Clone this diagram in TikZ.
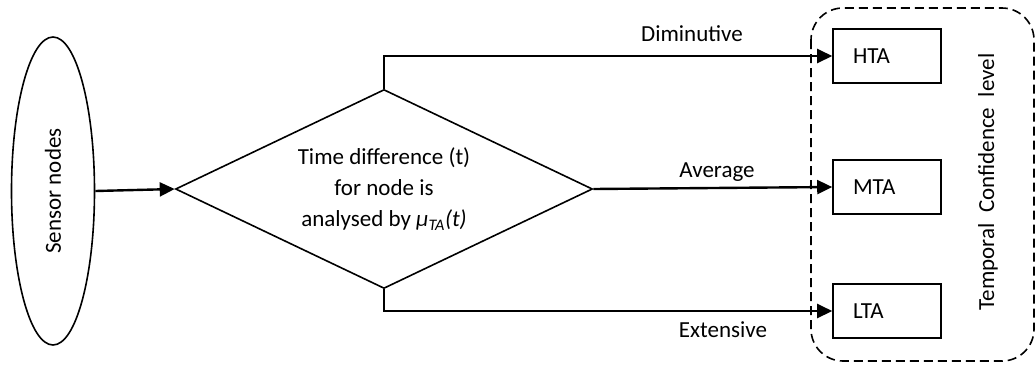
\documentclass[tikz,border=0pt]{standalone}
\usepackage{fontspec}
\setmainfont{Carlito}
\usetikzlibrary{shapes.geometric,arrows.meta}
\begin{document}
\begin{tikzpicture}[x=1pt,y=-1pt,
  every node/.style={font=\fontsize{23}{31}\selectfont},
  shapeline/.style={draw,line width=1.6pt},
  flow/.style={line width=2.4pt,-{Triangle[length=15pt,width=14pt]}},
  tabox/.style={shapeline,minimum height=54pt,text width=68pt,inner xsep=20pt,align=left},
  lbl/.style={inner sep=0pt}
]
\useasboundingbox (0,0) rectangle (1036,365);

% source and decision
\node[shapeline,ellipse,minimum width=83pt,minimum height=308pt,inner sep=0pt] (sensor) at (53,191) {};
\node[rotate=90] (sensortext) at (sensor.center) {Sensor nodes};
\node[shapeline,diamond,minimum width=417pt,minimum height=199pt,inner sep=0pt] (decide) at (384,189) {};
\node[align=center,inner sep=0pt] (decidetext) at (decide.center)
  {Time difference (t)\\for node is\\analysed by \textit{μ\textsubscript{TA}(t)}};

% outcome boxes
\node[tabox] (hta) at (887,56) {HTA};
\node[tabox] (mta) at (887,187) {MTA};
\node[tabox] (lta) at (887,311) {LTA};

% dashed group
\draw[line width=1.6pt,dash pattern=on 9pt off 5pt,rounded corners=32pt] (811,8) rectangle (1034,361);
\node[rotate=90,lbl] (group) at (988,182) {Temporal\ \ Confidence\ \ level};

% connectors
\draw[flow] (sensor.east) -- (decide.west);
\draw[flow] (decide.north) |- (hta.west);
\draw[flow] (decide.east) -- (mta.west);
\draw[flow] (decide.south) |- (lta.west);

% branch labels
\node[lbl] (dim) at (692,34) {Diminutive};
\node[lbl] (avg) at (717,172) {Average};
\node[lbl] (ext) at (723,330) {Extensive};
\end{tikzpicture}
\end{document}
